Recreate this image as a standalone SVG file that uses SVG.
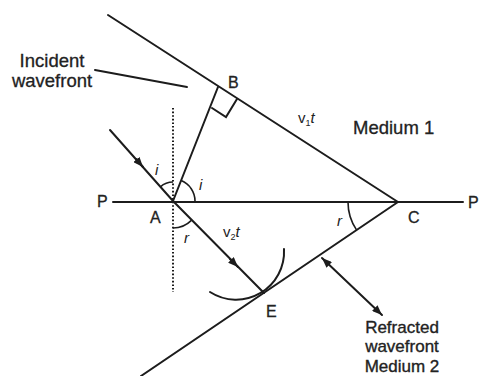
<svg xmlns="http://www.w3.org/2000/svg" width="488" height="376" viewBox="0 0 488 376">
<style>
.ln{stroke:#1c1c1c;stroke-width:2;fill:none;stroke-linecap:round}
.thin{stroke:#1c1c1c;stroke-width:1.6;fill:none}
.dot{stroke:#1c1c1c;stroke-width:2;fill:none;stroke-dasharray:1.6 2}
.lbl{font-family:"Liberation Sans",Arial,sans-serif;font-size:16px;fill:#222;stroke:#222;stroke-width:0.3}
.txt{font-family:"Liberation Sans",Arial,sans-serif;font-size:18.5px;fill:#222;stroke:#222;stroke-width:0.3}
.txs{font-family:"Liberation Sans",Arial,sans-serif;font-size:17px;fill:#222;stroke:#222;stroke-width:0.35}
.it{font-family:"Liberation Sans",Arial,sans-serif;font-style:italic;font-size:15px;fill:#222}
.v{font-family:"Liberation Sans",Arial,sans-serif;font-size:15px;fill:#222}
.sub{font-size:9px}
</style>
<defs>
<marker id="ah" viewBox="0 0 10 8" refX="10" refY="4" markerWidth="10" markerHeight="8" markerUnits="userSpaceOnUse" orient="auto">
<path d="M0 0 L10 4 L0 8 Z" fill="#1c1c1c"/>
</marker>
<marker id="ahs" viewBox="0 0 10 8" refX="0" refY="4" markerWidth="10" markerHeight="8" markerUnits="userSpaceOnUse" orient="auto">
<path d="M10 0 L0 4 L10 8 Z" fill="#1c1c1c"/>
</marker>
</defs>
<rect width="488" height="376" fill="#ffffff"/>
<g id="connectors">
<path class="ln" d="M108 15 L398 202"/>
<path class="ln" d="M113 202 L463 202"/>
<path class="ln" d="M398 202 L141 376"/>
<path class="ln" d="M173 201 L218 87"/>
<path class="ln" d="M110 130 L173 201 L264 293"/>
<path class="ln" d="M136 159 L143 167" marker-end="url(#ah)"/>
<path class="ln" d="M230 259 L238 267" marker-end="url(#ah)"/>
<path class="dot" d="M173 108 L173 292"/>
<path class="ln" d="M95 70 L187 87"/>
<path class="ln" d="M212 108 L226 117 L237 99"/>
<path class="ln" d="M210 292 A48 48 0 0 0 284 249"/>
<path class="ln" d="M322 258 L382 315" marker-start="url(#ahs)" marker-end="url(#ah)"/>
<path class="thin" d="M160.4 186.8 A19 19 0 0 1 173 182"/>
<path class="thin" d="M181.2 180.6 A22 22 0 0 1 195 201"/>
<path class="thin" d="M173 228 A26 26 0 0 0 191.4 220.4"/>
<path class="thin" d="M348 202 A50 50 0 0 0 356.5 229.9"/>
</g>
<g id="labels">
<text class="txt" x="52" y="67" text-anchor="middle">Incident</text>
<text class="txt" x="52" y="87" text-anchor="middle">wavefront</text>
<text class="lbl" x="228" y="88">B</text>
<text class="lbl" x="97" y="207">P</text>
<text class="lbl" x="468" y="208">P</text>
<text class="lbl" x="150" y="223">A</text>
<text class="lbl" x="408" y="223">C</text>
<text class="lbl" x="266" y="317">E</text>
<text class="txt" x="353" y="134">Medium 1</text>
<text class="v" x="298" y="123">v<tspan class="sub" dy="3">1</tspan><tspan dy="-3" font-style="italic">t</tspan></text>
<text class="v" x="223" y="237">v<tspan class="sub" dy="3">2</tspan><tspan dy="-3" font-style="italic">t</tspan></text>
<text class="it" x="155" y="175">i</text>
<text class="it" x="199" y="190">i</text>
<text class="it" x="184" y="243">r</text>
<text class="it" x="337" y="226">r</text>
<text class="txs" x="402" y="332.5" text-anchor="middle">Refracted</text>
<text class="txs" x="402" y="352" text-anchor="middle">wavefront</text>
<text class="txs" x="402" y="371.5" text-anchor="middle">Medium 2</text>
</g>
</svg>
